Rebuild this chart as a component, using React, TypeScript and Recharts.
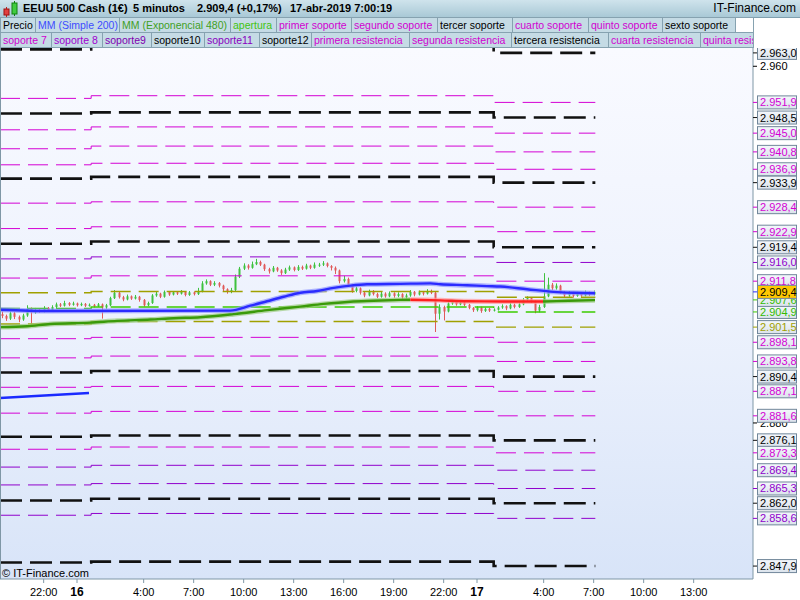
import React from "react";
import { Bar, CartesianGrid, ComposedChart, Line, XAxis, YAxis } from "recharts";

const FONT = '"Liberation Sans", Arial, sans-serif';

// x axis: hours since 16-abr-2019 0:00
const X_MIN = -4.62;
const X_MAX = 40.56;
const Y_MIN = 2845.0;
const Y_MAX = 2964.1;
const PLOT_RIGHT = 753;

const timeTicks = [-2, 0, 4, 7, 10, 13, 16, 19, 22, 24, 28, 31, 34, 37];
const timeLabels = ["22:00", "16", "4:00", "7:00", "10:00", "13:00", "16:00", "19:00", "22:00", "17", "4:00", "7:00", "10:00", "13:00"];

// 15-minute candles, first one at 19:30 on the 15th
const candleStart = -4.5;
const candleStep = 0.25;
const firstOpen = 2904.4;
const closes = [
  2904.0, 2903.4, 2904.6, 2903.8, 2903.2, 2904.1, 2905.6, 2904.8, 2905.4, 2905.0,
  2905.8, 2905.2, 2906.0, 2906.6, 2906.3, 2906.9, 2906.5, 2906.8, 2906.4, 2906.7,
  2906.3, 2906.5, 2906.2, 2906.6, 2905.9, 2906.4, 2908.0, 2909.2, 2908.2, 2907.7,
  2908.4, 2907.9, 2908.3, 2907.6, 2906.4, 2906.9, 2908.6, 2909.0, 2908.3, 2909.4,
  2908.8, 2909.3, 2909.0, 2909.4, 2908.7, 2909.3, 2908.9, 2909.5, 2911.3, 2911.8,
  2911.0, 2911.4, 2910.8, 2910.0, 2909.4, 2909.8, 2912.8, 2914.6, 2915.3, 2914.8,
  2915.6, 2916.1, 2915.5, 2914.5, 2914.0, 2914.8, 2914.2, 2913.6, 2914.4, 2914.9,
  2914.3, 2915.0, 2914.6, 2915.3, 2914.8, 2915.5, 2915.5, 2915.8, 2915.2, 2914.8,
  2914.2, 2911.8, 2912.3, 2911.0, 2909.6, 2910.2, 2909.2, 2908.6, 2909.5, 2908.9,
  2908.3, 2909.0, 2908.4, 2909.1, 2908.5, 2908.9, 2908.2, 2908.6, 2909.4, 2908.8,
  2909.3, 2909.0, 2909.6, 2909.2, 2904.5, 2906.0, 2905.0, 2906.8, 2907.2, 2906.6,
  2907.0, 2906.5, 2905.8, 2905.3, 2905.9, 2905.1, 2905.6, 2905.2, 2905.4, 2905.9,
  2906.2, 2905.7, 2906.5, 2906.0, 2906.6, 2907.6, 2908.0, 2907.3, 2905.2, 2906.0,
  2908.4, 2911.0, 2910.2, 2910.8, 2909.3, 2908.6, 2909.2, 2908.5, 2909.0, 2908.6,
  2909.3, 2908.8, 2909.4,
];
const highs = [
  2905.0, 2904.3, 2905.0, 2904.9, 2904.1, 2904.5, 2906.4, 2905.9, 2905.8, 2905.7,
  2906.2, 2906.0, 2906.4, 2907.0, 2906.9, 2907.4, 2907.1, 2907.2, 2907.0, 2907.0,
  2906.9, 2906.8, 2906.7, 2906.9, 2906.8, 2906.7, 2908.3, 2909.8, 2909.4, 2908.5,
  2908.8, 2908.6, 2908.7, 2908.5, 2907.8, 2907.2, 2908.9, 2909.4, 2909.2, 2909.7,
  2909.6, 2909.6, 2909.5, 2909.8, 2909.6, 2909.6, 2909.5, 2910.3, 2911.8, 2912.2,
  2912.0, 2911.8, 2911.6, 2911.0, 2910.2, 2910.3, 2913.3, 2915.0, 2915.8, 2915.6,
  2916.2, 2916.8, 2916.4, 2915.7, 2914.8, 2915.2, 2915.0, 2914.5, 2914.8, 2915.3,
  2915.1, 2915.4, 2915.3, 2915.7, 2915.5, 2916.0, 2915.9, 2916.3, 2916.0, 2915.4,
  2915.1, 2914.4, 2913.0, 2912.6, 2911.2, 2910.6, 2910.4, 2909.5, 2909.9, 2909.8,
  2909.2, 2909.4, 2909.3, 2909.5, 2909.3, 2909.3, 2909.1, 2909.0, 2909.8, 2909.6,
  2909.7, 2909.6, 2910.0, 2909.9, 2909.4, 2906.6, 2906.3, 2907.2, 2907.6, 2907.4,
  2907.3, 2907.2, 2906.7, 2906.0, 2906.2, 2906.1, 2905.9, 2905.8, 2905.7, 2906.2,
  2906.6, 2906.4, 2906.9, 2906.8, 2907.0, 2908.0, 2908.4, 2908.2, 2907.5, 2906.5,
  2913.6, 2912.6, 2911.4, 2911.3, 2911.0, 2909.6, 2909.6, 2909.4, 2909.4, 2909.3,
  2909.7, 2909.5, 2909.7,
];
const lows = [
  2903.5, 2902.9, 2903.1, 2903.3, 2902.6, 2902.9, 2903.8, 2902.0, 2904.5, 2904.7,
  2904.8, 2904.9, 2905.0, 2905.8, 2906.0, 2906.1, 2906.2, 2906.3, 2906.1, 2906.2,
  2906.0, 2906.1, 2905.9, 2906.0, 2903.4, 2905.6, 2906.2, 2907.8, 2907.9, 2907.3,
  2907.5, 2907.6, 2907.7, 2907.2, 2906.1, 2906.2, 2906.7, 2908.3, 2908.0, 2908.1,
  2908.5, 2908.6, 2908.7, 2908.8, 2908.4, 2908.5, 2908.6, 2908.7, 2909.3, 2911.0,
  2910.7, 2910.7, 2910.4, 2909.6, 2909.0, 2909.1, 2909.6, 2912.5, 2914.3, 2914.4,
  2914.6, 2915.4, 2915.2, 2914.1, 2913.5, 2913.8, 2913.9, 2913.2, 2913.4, 2914.1,
  2914.0, 2914.1, 2914.3, 2914.4, 2914.5, 2914.6, 2915.0, 2915.2, 2914.9, 2914.2,
  2913.4, 2911.3, 2911.5, 2910.5, 2909.2, 2909.3, 2908.8, 2908.2, 2908.4, 2908.6,
  2908.0, 2908.1, 2908.1, 2908.2, 2908.1, 2908.2, 2907.7, 2907.9, 2908.3, 2908.4,
  2908.6, 2908.6, 2908.8, 2908.9, 2900.4, 2903.2, 2903.0, 2904.8, 2906.5, 2906.3,
  2906.4, 2906.2, 2905.5, 2904.9, 2905.0, 2904.7, 2904.9, 2904.9, 2905.0, 2905.2,
  2905.6, 2905.3, 2905.5, 2905.7, 2905.8, 2906.4, 2907.3, 2906.9, 2904.6, 2904.8,
  2905.8, 2908.2, 2909.8, 2909.9, 2909.0, 2908.2, 2908.3, 2908.1, 2908.3, 2908.3,
  2908.4, 2908.5, 2908.6,
];

// MM (Simple 200)
const smaPoints: [number, number][] = [
  [-4.62, 2905.4], [-1.6, 2905.1], [9.2, 2905.2], [10.4, 2906.3], [11.4, 2907.3],
  [12.4, 2908.3], [13.4, 2909.2], [14.4, 2909.6], [15.4, 2910.3], [16.4, 2910.8],
  [17.4, 2911.1], [19.4, 2911.2], [21.2, 2911.3], [21.8, 2911.1], [23.4, 2910.9],
  [24.6, 2910.7], [25.4, 2910.6], [27.0, 2910.0], [28.6, 2909.4], [29.8, 2909.2],
  [31.08, 2909.1],
];
// MM (Exponencial 480): green while rising, red while falling
const emaRising1: [number, number][] = [
  [-4.62, 2901.5], [-3.0, 2901.7], [-1.6, 2902.2], [0.8, 2902.5], [2.4, 2902.9],
  [4.4, 2903.2], [5.8, 2903.5], [7.4, 2903.7], [9.4, 2904.4], [11.4, 2905.3],
  [13.4, 2906.1], [14.8, 2906.7], [16.4, 2907.2], [17.8, 2907.4], [19.4, 2907.6],
  [20.0, 2907.65],
];
const emaFalling: [number, number][] = [
  [20.0, 2907.65], [21.8, 2907.5], [23.4, 2907.3], [25.6, 2907.25], [27.96, 2907.25],
];
const emaRising2: [number, number][] = [
  [27.96, 2907.25], [29.5, 2907.4], [31.08, 2907.55],
];
const oldTrend: [number, number][] = [[-4.62, 2885.6], [0.72, 2886.7]];

// support / resistance / pivot levels, top to bottom, one value per session
const levelKinds = ["k", "m", "k", "m", "m", "m", "k", "m", "m", "k", "p", "m", "o", "g", "o", "m", "m", "k", "m", "m", "k", "m", "p", "p", "k", "p", "k"];
const levelsDay15 = [2963.8, 2952.8, 2949.4, 2945.75, 2941.5, 2937.9, 2934.8, 2929.3, 2923.6, 2920.2, 2916.8, 2912.5, 2909.2, 2905.7, 2902.2, 2898.9, 2894.6, 2891.3, 2888.0, 2882.2, 2876.9, 2874.1, 2870.1, 2866.1, 2862.6, 2859.3, 2848.7];
const levelsDay16 = [2964.5, 2953.4, 2949.65, 2946.4, 2942.1, 2938.25, 2935.2, 2929.6, 2924.0, 2920.7, 2917.25, 2913.0, 2909.5, 2906.0, 2902.75, 2899.2, 2895.0, 2891.65, 2888.2, 2882.6, 2877.2, 2874.6, 2870.5, 2866.4, 2863.0, 2859.7, 2848.9];
const levelsDay17 = [2963.0, 2951.9, 2948.5, 2945.0, 2940.8, 2936.9, 2933.9, 2928.4, 2922.9, 2919.4, 2916.0, 2911.8, 2908.2, 2904.9, 2901.5, 2898.1, 2893.8, 2890.4, 2887.1, 2881.6, 2876.1, 2873.3, 2869.4, 2865.3, 2862.0, 2858.6, 2847.9];
const sessionStarts = [X_MIN, 0.85, 25.0];
const levelsEnd = 31.1;

const plainTicks = [2960, 2880];
const lastEma = 2907.6;
const lastPrice = 2909.4;

const legendRow1: [string, number, number, string][] = [
  ["Precio", 0, 35, "#000000"],
  ["MM (Simple 200)", 35, 119, "#3d4cff"],
  ["MM (Exponencial 480)", 119, 230, "#3f9f1f"],
  ["apertura", 230, 276, "#3fc410"],
  ["primer soporte", 276, 351, "#d000d0"],
  ["segundo soporte", 351, 437, "#d000d0"],
  ["tercer soporte", 437, 512, "#000000"],
  ["cuarto soporte", 512, 588, "#d000d0"],
  ["quinto soporte", 588, 662, "#d000d0"],
  ["sexto soporte", 662, 735, "#000000"],
];
const legendRow2: [string, number, number, string][] = [
  ["soporte 7", 0, 51, "#d000d0"],
  ["soporte 8", 51, 102, "#a000d0"],
  ["soporte9", 102, 151, "#8000b0"],
  ["soporte10", 151, 204, "#000000"],
  ["soporte11", 204, 259, "#8a00c0"],
  ["soporte12", 259, 311, "#000000"],
  ["primera resistencia", 311, 409, "#d000d0"],
  ["segunda resistencia", 409, 511, "#d000d0"],
  ["tercera resistencia", 511, 608, "#000000"],
  ["cuarta resistencia", 608, 700, "#d000d0"],
  ["quinta resistencia", 700, 753, "#d000d0"],
];

const KIND_STYLE: Record<string, { color: string; width: number; dash: string }> = {
  k: { color: "#111111", width: 2.6, dash: "22 8" },
  m: { color: "#d400d4", width: 1, dash: "20 8" },
  p: { color: "#9000cc", width: 1, dash: "20 8" },
  o: { color: "#a0a000", width: 1.4, dash: "20 8" },
  g: { color: "#3ccc00", width: 1.4, dash: "20 8" },
};
const LABEL_COLOR: Record<string, string> = {
  k: "#000000",
  m: "#d400d4",
  p: "#9000cc",
  o: "#a0a000",
  g: "#33bb00",
};

const candles = closes.map((c, i) => {
  const o = i === 0 ? firstOpen : closes[i - 1];
  return { t: candleStart + i * candleStep, o, c, h: highs[i], l: lows[i], range: [lows[i], highs[i]] };
});

const toPts = (pts: [number, number][]) => pts.map(([t, v]) => ({ t, v }));

const levelSeries = levelKinds.map((kind, k) => ({
  kind,
  data: [
    { t: sessionStarts[0], v: levelsDay15[k] },
    { t: sessionStarts[1], v: levelsDay16[k] },
    { t: sessionStarts[2], v: levelsDay17[k] },
    { t: levelsEnd, v: levelsDay17[k] },
  ],
}));

type Mark = { v: number; kind: string };
const axisMarks: Mark[] = [
  ...plainTicks.map((v) => ({ v, kind: "plain" })),
  ...levelsDay17.map((v, k) => ({ v, kind: levelKinds[k] })).filter((m, k) => k !== 12),
  { v: lastEma, kind: "g" },
  { v: lastPrice, kind: "now" },
];

const fmt = (v: number, d: number) => {
  const [ip, fp] = v.toFixed(d).split(".");
  const grouped = ip.replace(/\B(?=(\d{3})+(?!\d))/g, ".");
  return fp ? `${grouped},${fp}` : grouped;
};

function Candle(props: any) {
  const { x, y, width, height, payload } = props;
  if (!payload || height == null) return null;
  const { o, c, h, l } = payload;
  const span = h - l;
  const ppu = span > 0 ? height / span : 0;
  const yOf = (v: number) => y + (h - v) * ppu;
  const color = c >= o ? "#3fc23f" : "#e05a5a";
  const cx = Math.round(x + width / 2) + 0.5;
  const top = yOf(Math.max(o, c));
  const bot = yOf(Math.min(o, c));
  return (
    <g>
      <line x1={cx} x2={cx} y1={y} y2={y + height} stroke={color} strokeWidth={1} />
      <rect x={cx - 1} y={top} width={2} height={Math.max(1, bot - top)} fill={color} />
    </g>
  );
}

function PriceTick(props: any) {
  const { y, payload } = props;
  const mark = axisMarks.find((m) => m.v === payload.value);
  if (!mark) return null;
  const x0 = PLOT_RIGHT;
  if (mark.kind === "plain") {
    return (
      <g>
        <line x1={x0} x2={x0 + 4} y1={y} y2={y} stroke="#000" />
        <text x={x0 + 7} y={y + 4} fontSize={11} fontFamily={FONT} fill="#000">
          {fmt(mark.v, 0)}
        </text>
      </g>
    );
  }
  const now = mark.kind === "now";
  const color = now ? "#000" : LABEL_COLOR[mark.kind];
  return (
    <g>
      <line x1={x0} x2={x0 + 5} y1={y} y2={y} stroke={now ? "#2b2bff" : KIND_STYLE[mark.kind].color} />
      <rect
        x={x0 + 4.5}
        y={y - 6.5}
        width={39}
        height={13}
        fill={now ? "#ffc800" : "url(#boxBg)"}
        stroke="#71879a"
      />
      <text x={x0 + 7} y={y + 4} fontSize={11} fontFamily={FONT} fill={color}>
        {fmt(mark.v, 1)}
      </text>
    </g>
  );
}

function TimeTick(props: any) {
  const { x, payload } = props;
  const idx = timeTicks.indexOf(payload.value);
  const label = timeLabels[idx] ?? "";
  const day = label.length <= 2;
  return (
    <text
      x={x}
      y={596}
      textAnchor="middle"
      fontSize={day ? 12 : 11}
      fontWeight={day ? "bold" : "normal"}
      fontFamily={FONT}
      fill="#000"
      transform="translate(0,-48)"
    >
      {label}
    </text>
  );
}

function LegendRow({ items, top }: { items: [string, number, number, string][]; top: number }) {
  return (
    <>
      {items.map(([label, a, b, color]) => (
        <div
          key={label}
          style={{
            position: "absolute",
            left: a,
            top,
            width: b - a + 1,
            height: 16,
            boxSizing: "border-box",
            border: "1px solid #86a2b0",
            background: "#c5dbe5",
            color,
            fontSize: 10.5,
            lineHeight: "14px",
            paddingLeft: 2,
            whiteSpace: "nowrap",
            overflow: "hidden",
          }}
        >
          {label}
        </div>
      ))}
    </>
  );
}

export default function App() {
  return (
    <div
      style={{
        position: "absolute",
        left: 0,
        top: 0,
        width: 800,
        height: 600,
        background: "#ffffff",
        fontFamily: FONT,
        overflow: "hidden",
      }}
    >
      <div
        style={{
          position: "absolute",
          left: 0,
          top: 0,
          width: 800,
          height: 18,
          boxSizing: "border-box",
          background: "linear-gradient(#cfe3ec, #a9c9d6)",
          borderBottom: "1px solid #7f9fae",
          fontSize: 11,
          lineHeight: "17px",
        }}
      >
        <svg width={20} height={18} style={{ position: "absolute", left: 1, top: 0 }}>
          <line x1={5.5} x2={5.5} y1={7} y2={17} stroke="#c02020" />
          <rect x={3} y={9} width={5} height={6} fill="#e04040" stroke="#a01010" />
          <line x1={13.5} x2={13.5} y1={1} y2={16} stroke="#108010" />
          <rect x={11} y={3} width={5} height={11} fill="#40cc40" stroke="#108010" />
        </svg>
        <span style={{ position: "absolute", left: 23, fontWeight: "bold" }}>EEUU 500 Cash (1€)</span>
        <span style={{ position: "absolute", left: 133, fontWeight: "bold" }}>5 minutos</span>
        <span style={{ position: "absolute", left: 197, fontWeight: "bold" }}>2.909,4 (+0,17%)</span>
        <span style={{ position: "absolute", left: 290, fontWeight: "bold" }}>17-abr-2019 7:00:19</span>
        <span style={{ position: "absolute", right: 4, fontSize: 12 }}>IT-Finance.com</span>
      </div>
      <LegendRow items={legendRow1} top={17} />
      <div
        style={{
          position: "absolute",
          left: 735,
          top: 17,
          width: 19,
          height: 16,
          boxSizing: "border-box",
          border: "1px solid #86a2b0",
          background: "#ffffff",
        }}
      />
      <LegendRow items={legendRow2} top={32} />
      <div style={{ position: "absolute", left: 0, top: 48 }}>
        <ComposedChart width={800} height={552} data={candles} margin={{ top: 0, right: 0, bottom: 0, left: 0 }}>
          <defs>
            <linearGradient id="plotBg" x1="0" y1="0" x2="0" y2="1">
              <stop offset="0" stopColor="#f9faff" />
              <stop offset="0.5" stopColor="#edf2fd" />
              <stop offset="1" stopColor="#d8e4f8" />
            </linearGradient>
            <linearGradient id="boxBg" x1="0" y1="0" x2="0" y2="1">
              <stop offset="0" stopColor="#f4f7fb" />
              <stop offset="1" stopColor="#dbe3ec" />
            </linearGradient>
          </defs>
          <CartesianGrid horizontal={false} vertical={false} fill="url(#plotBg)" />
          <XAxis
            dataKey="t"
            type="number"
            domain={[X_MIN, X_MAX]}
            allowDataOverflow
            ticks={timeTicks}
            interval={0}
            height={21}
            tick={<TimeTick />}
            tickSize={4}
            axisLine={{ stroke: "#7f97a6" }}
            tickLine={{ stroke: "#7f97a6" }}
          />
          <YAxis
            orientation="right"
            type="number"
            domain={[Y_MIN, Y_MAX]}
            allowDataOverflow
            ticks={axisMarks.map((m) => m.v)}
            interval={0}
            width={47}
            tick={<PriceTick />}
            tickLine={false}
            axisLine={{ stroke: "#7f97a6" }}
          />
          {levelSeries.map((s, k) => (
            <Line
              key={`lvl${k}`}
              data={s.data}
              dataKey="v"
              type="stepAfter"
              stroke={KIND_STYLE[s.kind].color}
              strokeWidth={KIND_STYLE[s.kind].width}
              strokeDasharray={KIND_STYLE[s.kind].dash}
              dot={false}
              activeDot={false}
              isAnimationActive={false}
            />
          ))}
          <Line data={toPts(oldTrend)} dataKey="v" type="linear" stroke="#1a2aff" strokeWidth={2.5} dot={false} activeDot={false} isAnimationActive={false} />
          <Bar dataKey="range" barSize={3} shape={<Candle />} isAnimationActive={false} />
          <Line data={toPts(emaRising1)} dataKey="v" type="monotone" stroke="#9ccc80" strokeWidth={5} strokeOpacity={0.7} dot={false} activeDot={false} isAnimationActive={false} />
          <Line data={toPts(emaRising1)} dataKey="v" type="monotone" stroke="#3a9a0a" strokeWidth={2.4} dot={false} activeDot={false} isAnimationActive={false} />
          <Line data={toPts(emaFalling)} dataKey="v" type="monotone" stroke="#ff9a9a" strokeWidth={5} strokeOpacity={0.7} dot={false} activeDot={false} isAnimationActive={false} />
          <Line data={toPts(emaFalling)} dataKey="v" type="monotone" stroke="#ff2020" strokeWidth={2.4} dot={false} activeDot={false} isAnimationActive={false} />
          <Line data={toPts(emaRising2)} dataKey="v" type="monotone" stroke="#9ccc80" strokeWidth={5} strokeOpacity={0.7} dot={false} activeDot={false} isAnimationActive={false} />
          <Line data={toPts(emaRising2)} dataKey="v" type="monotone" stroke="#3a9a0a" strokeWidth={2.4} dot={false} activeDot={false} isAnimationActive={false} />
          <Line data={toPts(smaPoints)} dataKey="v" type="monotone" stroke="#8f96ff" strokeWidth={5} strokeOpacity={0.7} dot={false} activeDot={false} isAnimationActive={false} />
          <Line data={toPts(smaPoints)} dataKey="v" type="monotone" stroke="#2b2bff" strokeWidth={2.4} dot={false} activeDot={false} isAnimationActive={false} />
        </ComposedChart>
      </div>
      <div style={{ position: "absolute", left: 0, top: 48, width: 1, height: 531, background: "#7f97a6" }} />
      <div style={{ position: "absolute", left: 2, top: 567, fontSize: 11, lineHeight: "13px" }}>© IT-Finance.com</div>
    </div>
  );
}
